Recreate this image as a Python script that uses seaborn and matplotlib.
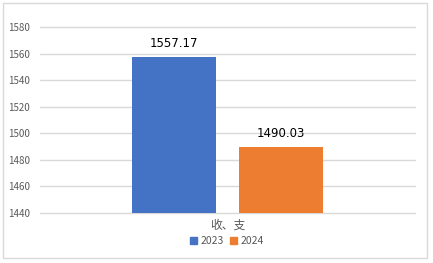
import matplotlib
matplotlib.use("Agg")
import matplotlib.pyplot as plt
import seaborn as sns
import pandas as pd
from matplotlib.patches import Rectangle

categories = ["收、支"]
years = ["2023", "2024"]
values = [1557.17, 1490.03]
yticks = [1440, 1460, 1480, 1500, 1520, 1540, 1560, 1580]
colors = ["#4472C4", "#ED7D31"]

df = pd.DataFrame({"cat": categories * len(years), "year": years, "value": values})

sns.set_style("white")
plt.rcParams['font.family'] = ['Noto Sans CJK SC', 'DejaVu Sans']

fig = plt.figure(figsize=(4.33, 2.63), dpi=100)
fig.patches.append(Rectangle((3/433, 5/263), 424/433, 255/263, transform=fig.transFigure,
                             fill=False, edgecolor="#D9D9D9", linewidth=1.0))
ax = fig.add_axes([40/433, 1 - 213/263, 375/433, (213 - 27)/263])

sns.barplot(data=df, x="cat", y="value", hue="year", palette=colors, width=0.571, gap=0.215,
            ax=ax, legend=False, saturation=1, linewidth=0)
ax.set_ylim(1440, 1580)
ax.set_xlim(-0.5, 0.5)
ax.set_yticks(yticks)
ax.yaxis.grid(False)
for t in yticks:
    ax.axhline(t, color="#D9D9D9", linewidth=1.0, zorder=0.5, clip_on=False)
for s in ["top", "right", "left", "bottom"]:
    ax.spines[s].set_visible(False)
ax.tick_params(axis="y", length=0, pad=7, labelsize=7, labelcolor="#595959")
ax.tick_params(axis="x", length=0, pad=4, labelsize=8.5, labelcolor="#595959")
ax.set_xlabel("")
ax.set_ylabel("")
for c in ax.containers:
    ax.bar_label(c, labels=[f"{v:.2f}" for v in c.datavalues], padding=5, fontsize=8.5, color="black",
                 family="DejaVu Sans")

handles = [Rectangle((0, 0), 1, 1, color=col) for col in colors]
fig.legend(handles, years, loc="center", bbox_to_anchor=(227/433, 1 - 241/263), ncol=2,
           frameon=False, fontsize=7.5, handlelength=0.7, handleheight=0.7, handletextpad=0.3,
           columnspacing=0.6, labelcolor="#595959")

fig.savefig("out.png", dpi=100)
